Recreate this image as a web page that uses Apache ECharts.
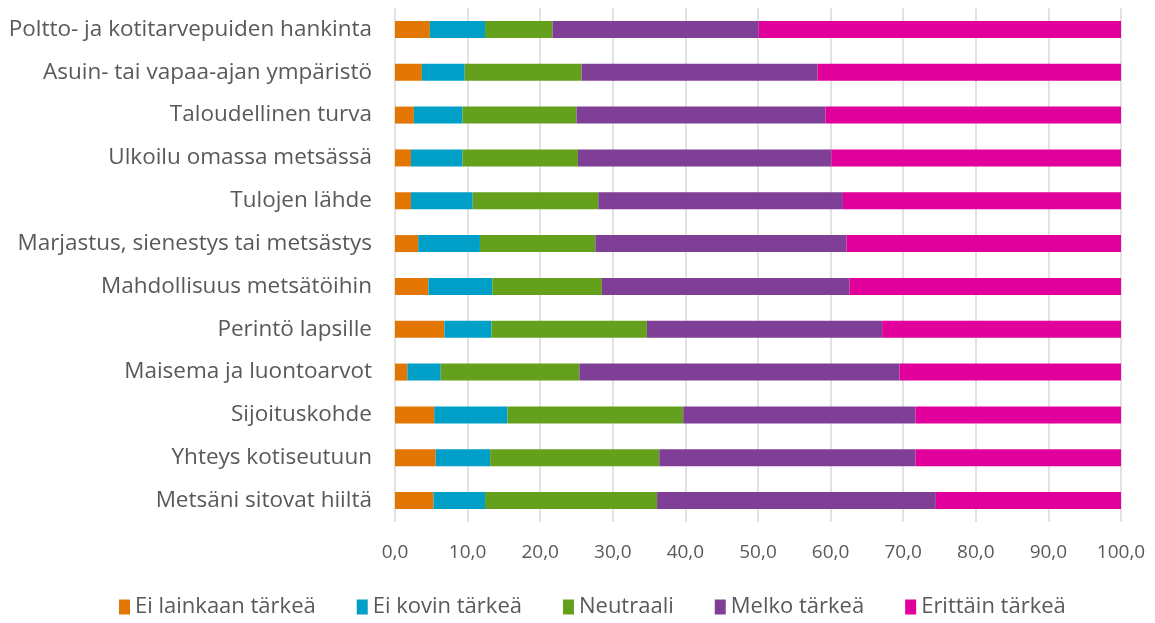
<!DOCTYPE html>
<html><head><meta charset="utf-8">
<script src="https://cdn.jsdelivr.net/npm/echarts@6/dist/echarts.min.js"></script>
<style>html,body{margin:0;padding:0;background:#fff}#c{width:1155px;height:623px}</style>
</head><body><div id="c"></div>
<script>
const categories = ["Poltto- ja kotitarvepuiden hankinta","Asuin- tai vapaa-ajan ympäristö","Taloudellinen turva","Ulkoilu omassa metsässä","Tulojen lähde","Marjastus, sienestys tai metsästys","Mahdollisuus metsätöihin","Perintö lapsille","Maisema ja luontoarvot","Sijoituskohde","Yhteys kotiseutuun","Metsäni sitovat hiiltä"];
const seriesNames = ["Ei lainkaan tärkeä","Ei kovin tärkeä","Neutraali","Melko tärkeä","Erittäin tärkeä"];
const eiLainkaan = [4.8,3.7,2.6,2.2,2.2,3.2,4.6,6.8,1.7,5.4,5.6,5.3];
const eiKovin    = [7.6,5.9,6.7,7.1,8.5,8.5,8.8,6.5,4.6,10.1,7.5,7.1];
const neutraali  = [9.3,16.1,15.7,15.9,17.3,15.9,15.1,21.4,19.1,24.2,23.3,23.7];
const melko      = [28.4,32.5,34.3,34.9,33.7,34.6,34.1,32.4,44.1,32.0,35.3,38.4];
const erittain   = [49.9,41.8,40.7,39.9,38.3,37.8,37.4,32.9,30.5,28.3,28.3,25.5];
const xTicks = [0,10,20,30,40,50,60,70,80,90,100];
const colors = ["#E27602","#009FC8","#65A01C","#7F3F97","#E1009B"];
const values = [eiLainkaan,eiKovin,neutraali,melko,erittain];
const font = "'Open Sans', 'Noto Sans', sans-serif";
const chart = echarts.init(document.getElementById('c'));
chart.setOption({
  animation:false,
  color:colors,
  grid:{left:395,right:34,top:8,bottom:101,containLabel:false},
  legend:{bottom:0,left:114,itemWidth:11,itemHeight:15,itemGap:41,icon:'rect',
    textStyle:{fontFamily:font,fontSize:22,color:'#595959'},data:seriesNames},
  xAxis:{type:'value',min:xTicks[0],max:xTicks[xTicks.length-1],interval:10,
    axisLine:{show:false},axisTick:{show:false},
    splitLine:{lineStyle:{color:'#D9D9D9',width:1.5}},
    axisLabel:{margin:21,fontFamily:font,fontSize:19,color:'#595959',
      formatter:v=>v.toFixed(1).replace('.',',')}},
  yAxis:{type:'category',data:categories,inverse:true,
    axisLine:{show:false},axisTick:{show:false},
    axisLabel:{margin:23,fontFamily:font,fontSize:22.5,color:'#595959'}},
  series:seriesNames.map((n,i)=>({name:n,type:'bar',stack:'all',barWidth:17,data:values[i]}))
});
</script></body></html>
